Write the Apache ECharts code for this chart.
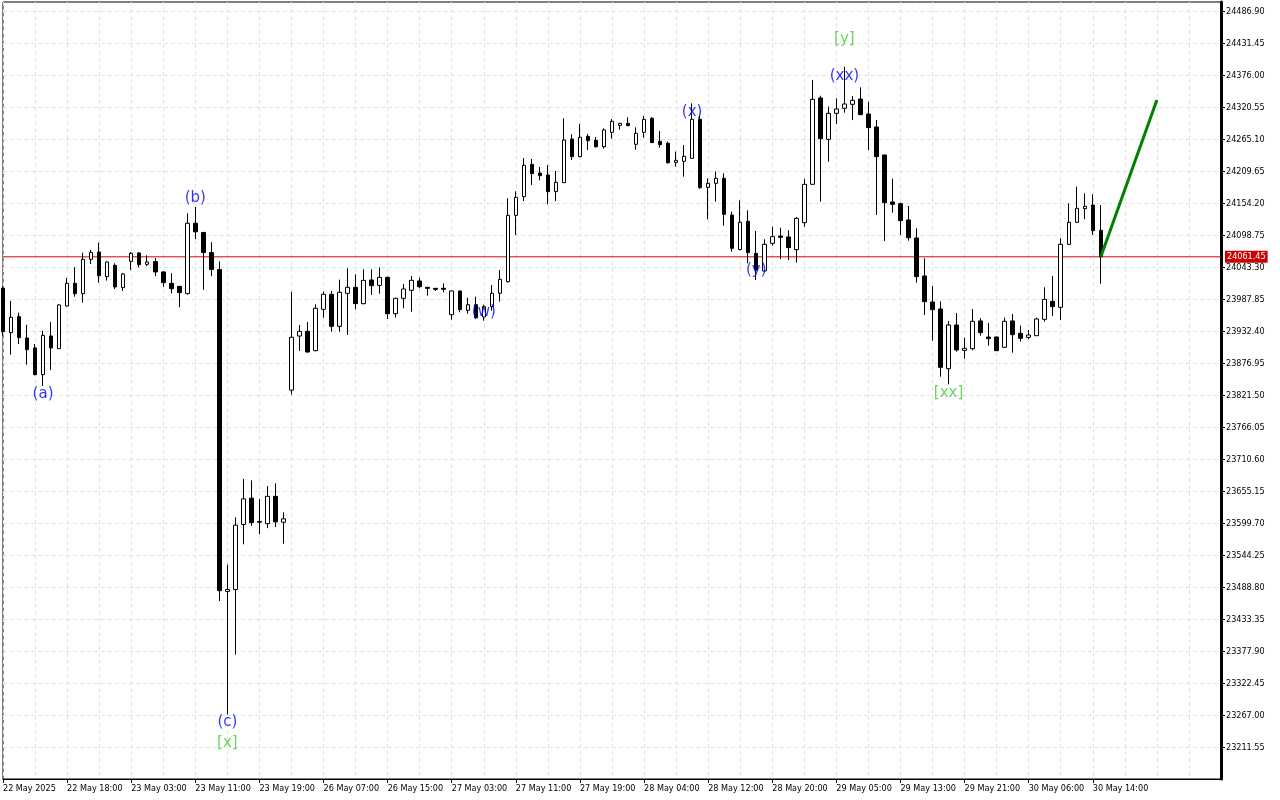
<!DOCTYPE html>
<html>
<head>
<meta charset="utf-8">
<script src="https://cdn.jsdelivr.net/npm/echarts@6/dist/echarts.min.js"></script>
<style>
html,body{margin:0;padding:0;background:#fff;}
#chart{width:1280px;height:800px;}
</style>
</head>
<body>
<div id="chart"></div>
<script>
// ---- data ----
const timeLabels = ['22 May 2025','22 May 18:00','23 May 03:00','23 May 11:00','23 May 19:00','26 May 07:00','26 May 15:00','27 May 03:00','27 May 11:00','27 May 19:00','28 May 04:00','28 May 12:00','28 May 20:00','29 May 05:00','29 May 13:00','29 May 21:00','30 May 06:00','30 May 14:00'];
const yTicks = [23211.55,23267.00,23322.45,23377.90,23433.35,23488.80,23544.25,23599.70,23655.15,23710.60,23766.05,23821.50,23876.95,23932.40,23987.85,24043.30,24098.75,24154.20,24209.65,24265.10,24320.55,24376.00,24431.45,24486.90];

const opens = [24006.9,23930.0,23957.8,23920.8,23903.5,23857.3,23924.3,23902.3,23976.2,24015.5,
23997.6,24057.1,24069.8,24027.1,24046.7,24008.0,24053.6,24068.1,24048.4,24053.0,
24035.2,24015.5,24010.3,23997.8,24119.6,24103.5,24068.9,24039.4,23481.7,23484.9,
23597.7,23643.3,23602.9,23599.0,23646.5,23601.6,23830.5,23924.2,23932.3,23898.8,
23970.5,23996.5,23941.0,23998.2,24008.6,23980.3,24021.3,24012.0,24025.9,23962.9,
23989.5,24003.4,24019.6,24008.6,24006.8,24006.8,23961.2,24002.2,23968.7,23978.5,
23957.2,23975.1,23998.2,24018.4,24133.3,24165.7,24221.7,24206.7,24203.2,24174.4,
24189.9,24265.6,24235.0,24270.2,24263.3,24252.3,24277.2,24289.3,24292.8,24256.4,
24277.2,24301.4,24261.6,24258.1,24225.2,24226.9,24232.1,24299.7,24181.9,24188.8,
24197.5,24133.9,24073.9,24123.0,24067.5,24036.9,24084.8,24097.5,24095.8,24073.9,
24120.6,24187.1,24336.7,24265.0,24310.1,24318.8,24325.7,24334.9,24308.9,24286.4,
24237.9,24156.5,24153.6,24125.3,24094.1,24028.2,23983.2,23971.0,23867.6,23943.3,
23899.4,23902.3,23950.3,23922.5,23922.5,23904.6,23950.3,23928.9,23921.9,23924.8,
23953.1,23984.3,23973.9,24083.1,24121.2,24144.9,24151.2,24107.4];
const highs = [24010.0,23984.9,23964.7,23943.9,23910.4,23933.5,23948.5,23979.7,24024.8,24043.2,
24068.7,24073.3,24086.0,24053.6,24050.2,24033.4,24069.8,24069.8,24064.0,24059.4,
24036.3,24032.9,24010.9,24136.9,24147.8,24104.8,24086.9,24053.5,23527.9,23609.9,
23676.6,23674.0,23642.0,23664.4,23668.9,23618.9,24001.0,23943.3,23948.5,23979.1,
24001.1,24002.2,24021.9,24041.5,24031.1,24039.8,24039.8,24043.2,24027.1,23990.7,
24014.4,24028.2,24025.3,24009.2,24007.4,24015.5,24002.8,24002.8,23990.7,23992.4,
23978.5,24012.6,24038.6,24162.8,24174.9,24232.7,24231.0,24217.1,24220.6,24210.2,
24301.4,24273.7,24291.6,24274.3,24269.1,24284.1,24300.3,24293.4,24303.2,24285.8,
24305.5,24303.7,24279.5,24261.0,24243.7,24255.2,24327.4,24307.2,24197.5,24209.6,
24206.1,24139.7,24159.3,24142.0,24106.2,24091.8,24113.7,24112.0,24107.4,24130.5,
24196.3,24367.9,24340.7,24321.6,24336.1,24390.9,24340.1,24355.2,24329.7,24298.5,
24238.5,24196.9,24155.3,24149.5,24110.8,24058.8,24010.9,23984.3,23950.3,23964.1,
23921.4,23971.0,23955.4,23946.8,23923.1,23956.0,23962.4,23942.2,23934.6,23956.0,
24008.6,24028.2,24093.5,24154.1,24183.0,24171.5,24169.7,24151.2];
const lows = [23925.0,23891.9,23910.4,23874.6,23856.1,23837.6,23865.4,23902.3,23975.1,23992.4,
23982.0,24049.0,24016.7,24020.2,24005.7,24002.3,24038.6,24043.2,24045.6,24028.2,
24009.2,23998.2,23973.9,23996.0,24092.0,24004.2,24027.9,23465.0,23268.2,23372.1,
23563.2,23595.2,23581.1,23591.3,23593.3,23564.4,23822.8,23898.3,23895.4,23897.7,
23956.0,23931.8,23931.8,23926.0,23970.5,23979.1,23995.3,23997.6,23953.7,23956.0,
23972.2,23966.4,24006.8,23994.1,24002.2,23999.9,23952.5,23965.3,23962.9,23953.7,
23950.8,23968.2,23983.7,24016.7,24099.3,24158.2,24185.9,24194.0,24152.4,24158.2,
24189.4,24229.2,24233.9,24246.6,24250.6,24248.9,24266.2,24281.8,24288.1,24247.1,
24267.9,24259.3,24250.6,24222.9,24217.7,24200.4,24231.0,24179.0,24126.4,24157.0,
24115.4,24070.4,24072.7,24050.2,24021.3,24035.7,24080.8,24057.7,24055.9,24051.3,
24113.7,24186.5,24157.0,24226.3,24291.6,24311.2,24298.5,24307.2,24246.5,24133.9,
24088.9,24138.0,24099.3,24089.4,24016.7,23960.6,23916.2,23853.8,23840.5,23897.1,
23885.0,23899.4,23924.8,23907.5,23898.3,23903.5,23895.4,23914.4,23918.5,23924.2,
23949.1,23958.9,23952.0,24082.5,24120.6,24126.4,24099.3,24014.9];
const closes = [23931.8,23956.6,23921.4,23900.6,23857.3,23925.4,23903.5,23978.0,24015.5,23997.6,
24057.1,24069.2,24028.8,24052.5,24009.2,24031.7,24067.5,24047.9,24052.5,24035.2,
24016.7,24006.3,23999.4,24119.6,24104.8,24068.9,24039.4,23483.0,23484.9,23596.5,
23642.0,23600.9,23601.6,23646.5,23602.2,23607.4,23922.1,23932.3,23896.5,23972.2,
23996.5,23941.0,24000.0,24008.6,23980.3,24020.7,24011.5,24025.9,23962.9,23989.5,
24005.7,24020.7,24009.7,24006.8,24005.1,24005.1,24002.2,23969.9,23978.5,23956.0,
23975.1,23998.2,24022.4,24133.3,24164.5,24220.0,24205.5,24202.1,24174.4,24190.5,
24263.9,24235.0,24268.5,24262.7,24252.3,24281.2,24296.2,24292.8,24288.7,24275.4,
24299.7,24259.3,24255.8,24224.6,24228.7,24235.6,24299.7,24181.3,24188.8,24197.5,
24135.1,24076.2,24121.2,24068.7,24038.6,24083.1,24096.4,24095.2,24077.3,24128.1,
24187.1,24334.4,24266.2,24310.1,24317.6,24326.3,24332.6,24307.8,24285.3,24235.0,
24155.3,24152.4,24124.1,24094.6,24027.1,23983.7,23969.9,23869.9,23943.3,23900.0,
23902.9,23949.7,23930.0,23919.6,23898.8,23949.7,23926.6,23920.2,23926.0,23953.7,
23987.8,23975.1,24083.1,24121.2,24145.5,24148.9,24106.8,24061.45];

const lastPrice = 24061.45;
const barCount = 153;

const waveText  = ['(a)','(b)','(c)','[x]','(w)','(x)','(y)','[y]','(xx)','[xx]'];
const waveBar   = [5, 24, 28, 28, 60, 86, 94, 105, 105, 118];
const wavePrice = [23823.7, 24163.4, 23255.4, 23219.0, 23965.8, 24312.4, 24038.6, 24438.9, 24374.8, 23825.5];
const waveDegree = ['minor','minor','minor','major','minor','minor','minor','major','minor','major'];

const projBar = [137, 144];
const projPrice = [24061.45, 24333.2];

// ---- chart ----
const cats = [];
for (let i = 0; i < barCount; i++) cats.push(String(i));
const candleData = opens.map((o, i) => [o, closes[i], lows[i], highs[i]]);
const degreeColor = { minor: '#0000ff', major: '#44cc33' };
const waveData = waveText.map((t, i) => ({
  value: [waveBar[i], wavePrice[i]],
  name: t,
  label: { color: degreeColor[waveDegree[i]] }
}));
const projData = projBar.map((b, i) => [b, projPrice[i]]);
const priceLineData = [[0, lastPrice], [barCount - 1, lastPrice]];
const hasLabel = (i) => i % 8 === 0 && (i / 8) < timeLabels.length;

const FONT = '"DejaVu Sans Condensed", "DejaVu Sans", sans-serif';
const chart = echarts.init(document.getElementById('chart'), null, { renderer: 'canvas' });
chart.setOption({
  backgroundColor: '#ffffff',
  animation: false,
  grid: { left: 2, top: 2, right: 59, bottom: 21, show: true, borderColor: '#000', borderWidth: 1, backgroundColor: 'transparent' },
  xAxis: {
    type: 'category',
    data: cats,
    boundaryGap: false,
    axisLine: { show: true, lineStyle: { color: '#000', width: 1 } },
    axisTick: { show: true, interval: hasLabel, length: 4, lineStyle: { color: '#000' } },
    axisLabel: {
      show: true,
      interval: hasLabel,
      formatter: (v, i) => timeLabels[i / 8] || '',
      align: 'left',
      margin: 5,
      color: '#000',
      fontSize: 9,
      fontFamily: FONT
    },
    splitLine: { show: true, interval: (i) => i % 4 === 0, lineStyle: { color: '#e2e2e2', type: [4, 3], width: 1 } }
  },
  yAxis: {
    type: 'value',
    position: 'right',
    min: 23156.6,
    max: 24503.0,
    scale: true,
    axisLine: { show: true, onZero: false, lineStyle: { color: '#000', width: 3 } },
    axisTick: { show: true, customValues: yTicks, length: 4, lineStyle: { color: '#000' } },
    axisLabel: {
      show: true,
      customValues: yTicks,
      formatter: (v) => v.toFixed(2),
      margin: 5,
      color: '#000',
      fontSize: 9,
      fontFamily: FONT
    },
    splitLine: { show: true, lineStyle: { color: '#e2e2e2', type: [4, 3], width: 1 } }
  },
  series: [
    {
      type: 'line',
      data: priceLineData,
      symbol: 'none',
      silent: true,
      color: '#dd0000',
      lineStyle: { color: '#dd0000', width: 1, type: 'solid' },
      endLabel: {
        show: true,
        distance: 4,
        formatter: () => lastPrice.toFixed(2),
        backgroundColor: '#cc0000',
        color: '#ffffff',
        padding: [2, 2, 1, 2],
        fontSize: 9,
        fontFamily: FONT
      },
      z: 2
    },
    {
      type: 'candlestick',
      data: candleData,
      barWidth: 4,
      itemStyle: { color: '#ffffff', color0: '#000000', borderColor: '#000000', borderColor0: '#000000', borderWidth: 1 },
      emphasis: { disabled: true },
      z: 3
    },
    {
      type: 'line',
      data: projData,
      symbol: 'none',
      color: '#008000',
      lineStyle: { color: '#008000', width: 3 },
      z: 4
    },
    {
      type: 'scatter',
      data: waveData,
      symbolSize: 0,
      label: {
        show: true,
        position: 'inside',
        formatter: (p) => p.name,
        fontSize: 15,
        fontFamily: '"DejaVu Sans", sans-serif'
      },
      z: 5
    }
  ]
});
</script>
</body>
</html>
